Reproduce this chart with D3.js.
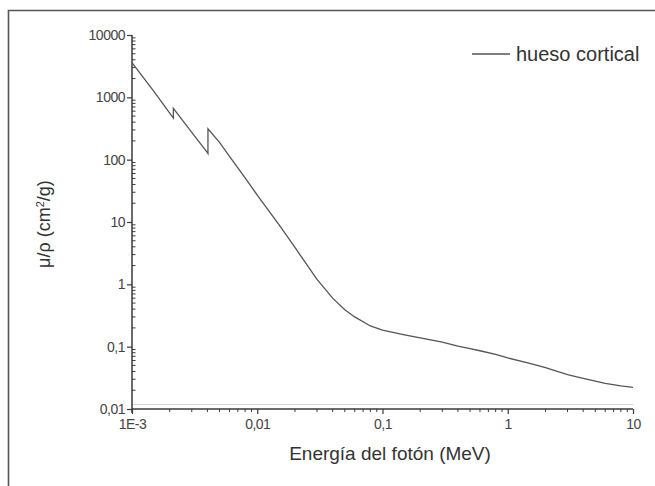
<!DOCTYPE html>
<html>
<head>
<meta charset="utf-8">
<script src="https://cdn.jsdelivr.net/npm/d3@7"></script>
<style>
  body { margin: 0; background: #fff; }
  svg { display: block; font-family: "Liberation Sans", Arial, sans-serif; }
</style>
</head>
<body>
<svg id="chart" width="655" height="486"></svg>
<script>
// photon energy (MeV) and mass attenuation coefficient (cm2/g)
const energyMeV = [0.001, 0.0015, 0.002, 0.00214, 0.00214, 0.003, 0.004, 0.00404, 0.00404,
  0.005, 0.006, 0.008, 0.01, 0.015, 0.02, 0.03, 0.04, 0.05, 0.06, 0.08, 0.1, 0.15, 0.2,
  0.3, 0.4, 0.5, 0.6, 0.8, 1, 1.5, 2, 3, 4, 5, 6, 8, 10];
const muRho = [3600, 1230, 560, 465, 665, 275, 130, 126, 312,
  189, 113, 51, 27, 8.9, 3.9, 1.2, 0.6, 0.39, 0.30, 0.215, 0.185, 0.155, 0.138,
  0.118, 0.102, 0.093, 0.086, 0.075, 0.066, 0.054, 0.046, 0.0355, 0.031, 0.028, 0.0258, 0.0235, 0.0223];

const xTickValues = [0.001, 0.01, 0.1, 1, 10];
const xTickLabels = ["1E-3", "0,01", "0,1", "1", "10"];
const yTickValues = [0.01, 0.1, 1, 10, 100, 1000, 10000];
const yTickLabels = ["0,01", "0,1", "1", "10", "100", "1000", "10000"];
const seriesName = "hueso cortical";

let svg = d3.select("#chart");

// outer frame (only top and left edges visible)
svg.append("path")
  .attr("d", "M8.5,486 V10.5 H655")
  .attr("fill", "none").attr("stroke", "#555").attr("stroke-width", 1.6);

let x = d3.scaleLog().domain([1e-3, 10]).range([132, 633]);
let y = d3.scaleLog().domain([0.01, 10000]).range([409, 35]);

let ink = "#3a3a3a";

// faint line just above the x axis
svg.append("line")
  .attr("x1", x(1e-3)).attr("x2", x(10))
  .attr("y1", y(0.01) - 4.5).attr("y2", y(0.01) - 4.5)
  .attr("stroke", "#d6d6d6").attr("stroke-width", 1.2);

// x axis
let xAxis = d3.axisBottom(x)
  .tickValues(xTickValues)
  .tickFormat((d, i) => xTickLabels[i])
  .tickSize(5).tickPadding(5);
let gx = svg.append("g").attr("transform", `translate(0,${y(0.01)})`).call(xAxis);
gx.select(".domain").attr("stroke", ink).attr("stroke-width", 1.5).attr("d", `M${x(1e-3)},0H${x(10)}`);
gx.selectAll(".tick line").attr("stroke", ink).attr("stroke-width", 1.2);
gx.selectAll(".tick text").attr("fill", "#444").style("font-size", "14px").attr("letter-spacing", "-0.5");

let xMinor = x.ticks().filter(d => !xTickValues.some(v => Math.abs(v - d) / v < 1e-6));
gx.selectAll(".minor").data(xMinor).enter().append("line")
  .attr("class", "minor")
  .attr("x1", d => x(d)).attr("x2", d => x(d))
  .attr("y1", 0).attr("y2", 3)
  .attr("stroke", ink).attr("stroke-width", 1);

// y axis
let yAxis = d3.axisLeft(y)
  .tickValues(yTickValues)
  .tickFormat((d, i) => yTickLabels[i])
  .tickSize(5).tickPadding(2);
let gy = svg.append("g").attr("transform", `translate(${x(1e-3)},0)`).call(yAxis);
gy.select(".domain").attr("stroke", ink).attr("stroke-width", 1.5).attr("d", `M0,${y(10000)}V${y(0.01) + 4}`);
gy.selectAll(".tick line").attr("stroke", ink).attr("stroke-width", 1.2);
gy.selectAll(".tick text").attr("fill", "#444").style("font-size", "14px").attr("letter-spacing", "-0.5");

let yMinor = y.ticks().filter(d => !yTickValues.some(v => Math.abs(v - d) / v < 1e-6));
gy.selectAll(".minor").data(yMinor).enter().append("line")
  .attr("class", "minor")
  .attr("x1", 0).attr("x2", 3.5)
  .attr("y1", d => y(d)).attr("y2", d => y(d))
  .attr("stroke", ink).attr("stroke-width", 1);

// curve
let line = d3.line().x((d, i) => x(energyMeV[i])).y(d => y(d));
svg.append("path")
  .datum(muRho)
  .attr("d", line)
  .attr("fill", "none")
  .attr("stroke", "#555")
  .attr("stroke-width", 1.3);

// axis titles
svg.append("text")
  .attr("x", 390).attr("y", 460)
  .attr("text-anchor", "middle")
  .attr("fill", "#333")
  .style("font-size", "19px")
  .text("Energía del fotón (MeV)");

let yTitle = svg.append("text")
  .attr("transform", "translate(50,224) rotate(-90)")
  .attr("text-anchor", "middle")
  .attr("fill", "#333")
  .style("font-size", "18px");
yTitle.append("tspan").text("μ/ρ (cm");
yTitle.append("tspan").attr("baseline-shift", "super").style("font-size", "11px").text("2");
yTitle.append("tspan").text("/g)");

// legend
let legend = svg.append("g").attr("transform", "translate(472,54)");
legend.append("line").attr("x1", 0).attr("x2", 38).attr("y1", 0).attr("y2", 0)
  .attr("stroke", "#555").attr("stroke-width", 1.3);
legend.append("text").attr("x", 44).attr("y", 6.5)
  .attr("fill", "#333").style("font-size", "20px")
  .text(seriesName);
</script>
</body>
</html>
